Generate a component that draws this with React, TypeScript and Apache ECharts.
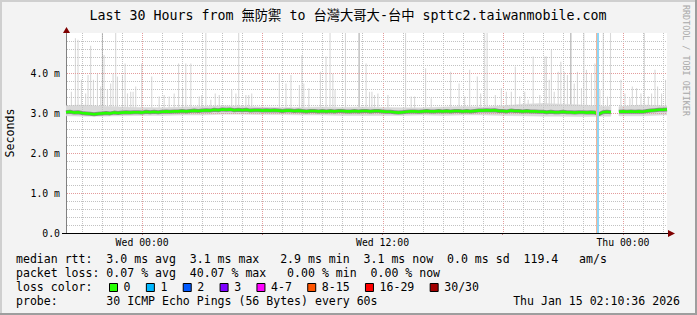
import React, { useEffect, useRef } from 'react';
import * as echarts from 'echarts';

// ---------- data ----------
const TITLE = 'Last 30 Hours from 無防禦 to 台灣大哥大-台中 spttc2.taiwanmobile.com';
// x axis is in hours relative to Wed 00:00
const X_MIN = -3.8;
const X_MAX = 26.2;
const xLabelHours = [0, 12, 24];
const xLabelTexts = ['Wed 00:00', 'Wed 12:00', 'Thu 00:00'];
const xMajorHours = [0, 6, 12, 18, 24];
const xMinorHours = [-3, -2, -1, 1, 2, 3, 4, 5, 7, 8, 9, 10, 11, 13, 14, 15, 16, 17, 19, 20, 21, 22, 23, 25, 26];
// y axis in milliseconds
const Y_MIN = 0;
const Y_MAX = 5;
const Y_STEP = 1;
const Y_MINOR_STEP = 0.2;

// median rtt (ms), one sample every 12 minutes starting at MEDIAN_START
const MEDIAN_START = -3.8;
const MEDIAN_STEP = 0.2;
const medianRtt: (number | null)[] = [
  3.02, 3.03, 3.01, 3.02, 3.00, 2.99, 2.98, 2.97, 2.98, 2.99,
  3.00, 2.99, 3.01, 3.00, 3.01, 3.02, 3.01, 3.02, 3.02, 3.01,
  3.03, 3.02, 3.03, 3.02, 3.03, 3.04, 3.03, 3.04, 3.04, 3.05,
  3.04, 3.05, 3.06, 3.05, 3.06, 3.07, 3.06, 3.08, 3.07, 3.09,
  3.08, 3.09, 3.07, 3.08, 3.07, 3.08, 3.06, 3.07, 3.07, 3.06,
  3.07, 3.06, 3.07, 3.06, 3.05, 3.06, 3.06, 3.05, 3.06, 3.05,
  3.04, 3.05, 3.05, 3.04, 3.05, 3.04, 3.05, 3.04, 3.05, 3.05,
  3.04, 3.04, 3.05, 3.04, 3.05, 3.05, 3.04, 3.05, 3.05, 3.04,
  3.03, 3.03, 3.02, 3.01, 3.02, 3.03, 3.04, 3.04, 3.03, 3.04,
  3.05, 3.04, 3.04, 3.05, 3.04, 3.05, 3.04, 3.05, 3.05, 3.04,
  3.05, 3.04, 3.05, 3.06, 3.06, 3.07, 3.06, 3.07, 3.05, 3.05,
  3.04, 3.06, 3.05, 3.05, 3.04, 3.05, 3.04, 3.04, 3.03, 3.03,
  3.02, 3.03, 3.02, 3.02, 3.03, 3.02, 3.02, 3.01, 3.02, 3.02,
  3.01, 3.02, 3.01, 2.97, 3.02, 3.03, 3.02, null, 3.03, 3.04,
  3.03, 3.04, 3.03, 3.04, 3.03, 3.05, 3.06, 3.07, 3.08, 3.08,
  3.09,
];

// dense smoke band: [hour, low, high]  (null = no data)
const smokeBand: [number, number | null, number | null][] = [
  [-3.8, 2.93, 3.18], [-3, 2.92, 3.2], [-2, 2.92, 3.17], [-1, 2.93, 3.15], [0, 2.94, 3.14],
  [1, 2.94, 3.13], [2, 2.95, 3.15], [3, 2.95, 3.16], [4, 2.97, 3.18], [5, 2.97, 3.17],
  [6, 2.96, 3.15], [7, 2.96, 3.14], [8, 2.95, 3.14], [9, 2.95, 3.15], [10, 2.94, 3.14],
  [11, 2.94, 3.15], [12, 2.94, 3.14], [13, 2.94, 3.13], [14, 2.95, 3.13], [15, 2.94, 3.15],
  [16, 2.95, 3.16], [17, 2.95, 3.15], [18, 2.94, 3.18], [19, 2.93, 3.22], [20, 2.92, 3.24],
  [21, 2.92, 3.22], [22, 2.91, 3.2], [23, 2.92, 3.17], [23.4, 2.92, 3.16], [23.6, null, null],
  [23.8, 2.93, 3.16], [24, 2.93, 3.17], [25, 2.93, 3.2], [26, 2.95, 3.18], [26.2, 2.95, 3.18],
];

// max-ping smoke spikes: [hour, ms]
const SPIKE_BASE = 3.0;
const spikes: [number, number][] = [
  [-3.53, 3.53], [-3.33, 4.87], [-3.2, 4.83], [-3.03, 3.83], [-2.82, 3.49], [-2.7, 3.95],
  [-2.57, 4.68], [-2.43, 3.83], [-2.23, 3.99], [-2.07, 3.66], [-1.9, 4.45], [-1.73, 3.58],
  [-1.57, 3.74], [-1.45, 3.99], [-1.32, 5.0], [-1.23, 3.91], [-0.98, 3.95], [-0.85, 4.24],
  [-0.73, 3.49], [-0.57, 3.53], [-0.45, 3.53], [-0.32, 3.66], [-0.02, 4.24], [0.48, 3.91],
  [0.85, 3.41], [1.1, 3.45], [1.35, 3.41], [1.6, 3.49], [1.82, 4.24], [2.02, 3.62],
  [2.18, 4.24], [2.43, 4.24], [2.85, 3.41], [2.98, 3.45], [3.18, 5.0], [3.43, 3.33],
  [3.65, 3.49], [3.85, 3.45], [4.47, 3.58], [4.68, 3.49], [4.82, 5.0], [5.18, 3.45],
  [5.32, 3.45], [5.47, 3.49], [6.85, 3.99], [7.18, 3.74], [7.43, 3.95], [7.85, 3.7],
  [7.98, 4.45], [8.07, 3.74], [8.32, 3.62], [8.9, 4.03], [9.18, 4.41], [9.38, 5.0],
  [9.52, 3.99], [9.63, 3.58], [10.15, 5.0], [11.18, 4.24], [11.35, 3.53], [11.47, 3.53],
  [11.6, 3.45], [11.77, 3.49], [12.27, 3.45], [13.15, 5.0], [13.43, 3.41], [13.6, 3.41],
  [14.15, 4.12], [14.43, 3.37], [15.4, 4.03], [15.82, 3.74], [16.1, 3.41], [16.35, 4.08],
  [16.73, 3.91], [16.9, 3.49], [17.1, 5.0], [17.22, 5.0], [17.63, 3.45], [17.93, 3.62],
  [18.18, 3.53], [18.43, 3.53], [18.63, 4.16], [18.85, 3.41], [19.1, 3.53], [19.27, 3.33],
  [19.52, 4.41], [19.85, 3.45], [20.1, 4.41], [20.18, 4.41], [20.32, 3.83], [20.43, 4.58],
  [20.57, 3.53], [20.77, 4.03], [20.9, 4.28], [21.07, 4.03], [21.23, 3.95], [21.57, 3.74],
  [21.73, 4.03], [21.93, 3.62], [22.05, 5.0], [22.18, 4.08], [22.43, 3.99], [22.6, 4.24],
  [22.85, 3.58], [23.02, 5.0], [23.23, 3.41], [23.38, 5.0], [23.9, 3.83], [24.1, 3.49],
  [24.35, 3.37], [24.47, 3.66], [24.68, 3.62], [24.9, 3.49], [25.07, 5.0], [25.27, 3.41],
  [25.43, 3.49], [25.6, 4.08], [25.73, 3.66], [25.93, 3.49], [26.13, 3.83],
];
const darkSpikes: [number, number][] = [[-1.98, 5.0], [10.83, 5.0], [21.4, 5.0]];

// packet loss event (hour) shown as a vertical bar
const lossEventHours = [22.72];

// legend texts
const statsRows = [
  'median rtt:  3.0 ms avg  3.1 ms max   2.9 ms min  3.1 ms now  0.0 ms sd  119.4   am/s',
  'packet loss: 0.07 % avg  40.07 % max   0.00 % min  0.00 % now',
];
const lossLabels = ['0', '1', '2', '3', '4-7', '8-15', '16-29', '30/30'];
const lossColors = ['#26ff00', '#00b8ff', '#0059ff', '#7e00ff', '#ff00ff', '#ff5500', '#ff0000', '#a10000'];
const PROBE_TEXT = 'probe:       30 ICMP Echo Pings (56 Bytes) every 60s';
const STAMP_TEXT = 'Thu Jan 15 02:10:36 2026';
const WATERMARK = 'RRDTOOL / TOBI OETIKER';

// ---------- component ----------
const MONO = '"DejaVu Sans Mono", "Noto Sans CJK TC", monospace';
const MINOR = '#c2c2c2';
const MAJOR = '#e49c9c';

export default function App() {
  const ref = useRef<HTMLDivElement>(null);

  useEffect(() => {
    if (!ref.current) return;
    const chart = echarts.init(ref.current, null, { renderer: 'svg' });

    const medianData = medianRtt.map((v, i) => [MEDIAN_START + i * MEDIAN_STEP, v]);
    // band segments between consecutive samples: [h0, lo0, hi0, h1, lo1, hi1]
    const bandSegments: number[][] = [];
    for (let i = 0; i < smokeBand.length - 1; i++) {
      const a = smokeBand[i];
      const b = smokeBand[i + 1];
      if (a[1] == null || a[2] == null || b[1] == null || b[2] == null) continue;
      bandSegments.push([a[0], a[1], a[2], b[0], b[1], b[2]]);
    }
    // grid lines: [x0, y0, x1, y1, major]
    const gridLines: number[][] = [];
    xMinorHours.forEach((h) => gridLines.push([h, Y_MIN, h, Y_MAX, 0]));
    xMajorHours.forEach((h) => gridLines.push([h, Y_MIN, h, Y_MAX, 1]));
    const nLevels = Math.round((Y_MAX - Y_MIN) / Y_MINOR_STEP);
    for (let k = 1; k < nLevels; k++) {
      const v = +(Y_MIN + k * Y_MINOR_STEP).toFixed(2);
      gridLines.push([X_MIN, v, X_MAX, v, k % 5 === 0 ? 1 : 0]);
    }

    const spikeSeries = (data: [number, number][], color: string, z: number) => ({
      type: 'custom',
      z,
      silent: true,
      clip: true,
      data,
      encode: { x: 0, y: 1 },
      renderItem: (_p: any, api: any) => {
        const h = api.value(0);
        const v = api.value(1);
        const p0 = api.coord([h, SPIKE_BASE]);
        const p1 = api.coord([h, v]);
        return {
          type: 'line',
          shape: { x1: p0[0], y1: p0[1], x2: p1[0], y2: p1[1] },
          style: { stroke: color, lineWidth: 1.1 },
        };
      },
    });

    const LEG = 11.56;
    const graphics: any[] = [];
    // frame
    graphics.push({ type: 'rect', shape: { x: 0, y: 0, width: 697, height: 2 }, style: { fill: '#cfcfcf' } });
    graphics.push({ type: 'rect', shape: { x: 0, y: 0, width: 2, height: 315 }, style: { fill: '#cfcfcf' } });
    graphics.push({ type: 'rect', shape: { x: 695, y: 0, width: 2, height: 315 }, style: { fill: '#9e9e9e' } });
    graphics.push({ type: 'rect', shape: { x: 0, y: 313, width: 697, height: 2 }, style: { fill: '#9e9e9e' } });
    // title
    graphics.push({
      type: 'text', x: 348, y: 15,
      style: { text: TITLE, fontFamily: MONO, fontSize: 13.3, fill: '#000', textAlign: 'center', textVerticalAlign: 'middle' },
    });
    // watermark
    graphics.push({
      type: 'text', x: 686, y: 5, rotation: -Math.PI / 2,
      style: { text: WATERMARK, fontFamily: MONO, fontSize: 8.4, fill: '#a8a8a8', textAlign: 'left', textVerticalAlign: 'middle' },
    });
    // y axis name
    graphics.push({
      type: 'text', x: 10, y: 133, rotation: Math.PI / 2,
      style: { text: 'Seconds', fontFamily: MONO, fontSize: 11.6, fill: '#000', textAlign: 'center', textVerticalAlign: 'middle' },
    });
    // axis extensions and arrows
    graphics.push({ type: 'line', shape: { x1: 62, y1: 233.5, x2: 669, y2: 233.5 }, style: { stroke: '#000', lineWidth: 1 }, z: 10 });
    graphics.push({ type: 'polygon', shape: { points: [[668, 230], [668, 237], [675, 233.5]] }, style: { fill: '#7f0000' }, z: 10 });
    graphics.push({ type: 'polygon', shape: { points: [[63, 33], [70, 33], [66.5, 27]] }, style: { fill: '#7f0000' }, z: 10 });
    // stats rows
    const rowY = [259.3, 273.3, 287.3, 301.3];
    statsRows.forEach((t, i) => {
      graphics.push({
        type: 'text', x: 16, y: rowY[i],
        style: { text: t, fontFamily: MONO, fontSize: LEG, fill: '#000', textAlign: 'left', textVerticalAlign: 'middle' },
      });
    });
    graphics.push({
      type: 'text', x: 16, y: rowY[2],
      style: { text: 'loss color:', fontFamily: MONO, fontSize: LEG, fill: '#000', textAlign: 'left', textVerticalAlign: 'middle' },
    });
    const CH = 6.96;
    let bx = 109;
    lossLabels.forEach((lab, i) => {
      graphics.push({
        type: 'rect', shape: { x: bx + 0.5, y: 283.5, width: 8, height: 8 },
        style: { fill: lossColors[i], stroke: '#000', lineWidth: 1 },
      });
      const tx = bx + 14.6;
      graphics.push({
        type: 'text', x: tx, y: rowY[2],
        style: { text: lab, fontFamily: MONO, fontSize: LEG, fill: '#000', textAlign: 'left', textVerticalAlign: 'middle' },
      });
      bx = tx + lab.length * CH + 15.3;
    });
    graphics.push({
      type: 'text', x: 16, y: rowY[3],
      style: { text: PROBE_TEXT, fontFamily: MONO, fontSize: LEG, fill: '#000', textAlign: 'left', textVerticalAlign: 'middle' },
    });
    graphics.push({
      type: 'text', x: 680, y: rowY[3],
      style: { text: STAMP_TEXT, fontFamily: MONO, fontSize: LEG, fill: '#000', textAlign: 'right', textVerticalAlign: 'middle' },
    });

    const option: any = {
      animation: false,
      backgroundColor: '#f3f3f3',
      grid: {
        left: 66, right: 30, top: 33, bottom: 82,
        show: true, backgroundColor: '#ffffff', borderWidth: 0,
      },
      xAxis: {
        type: 'value',
        min: X_MIN,
        max: X_MAX,
        axisLine: { show: false, onZero: false },
        splitLine: { show: false },
        axisTick: {
          show: true, customValues: xMajorHours, length: 2, inside: false,
          lineStyle: { color: '#d08080' },
        },
        axisLabel: {
          customValues: xLabelHours,
          formatter: (v: number) => xLabelTexts[xLabelHours.indexOf(v)] ?? '',
          fontFamily: MONO, fontSize: 9.8, color: '#000', margin: 5,
        },
      },
      yAxis: {
        type: 'value',
        min: Y_MIN,
        max: Y_MAX,
        interval: Y_STEP,
        axisLine: { show: true, onZero: false, lineStyle: { color: '#808080' } },
        axisTick: { show: false },
        axisLabel: {
          formatter: (v: number) => (v >= Y_MAX ? '' : v === 0 ? '0.0' : v.toFixed(1) + ' m'),
          fontFamily: MONO, fontSize: 9.8, color: '#000', margin: 6,
        },
        splitLine: { show: false },
      },
      graphic: { elements: graphics },
      series: [
        spikeSeries(spikes, '#d8d8d8', 2),
        spikeSeries(darkSpikes, '#ababab', 2),
        {
          type: 'custom', name: 'smoke', z: 3, silent: true, clip: true,
          data: bandSegments,
          encode: { x: [0, 3], y: [1, 2, 4, 5] },
          renderItem: (_p: any, api: any) => {
            const a0 = api.coord([api.value(0), api.value(1)]);
            const a1 = api.coord([api.value(0), api.value(2)]);
            const b0 = api.coord([api.value(3), api.value(4)]);
            const b1 = api.coord([api.value(3), api.value(5)]);
            return {
              type: 'polygon',
              shape: { points: [a0, a1, b1, b0] },
              style: { fill: '#d9d9d9', stroke: '#d9d9d9', lineWidth: 0.5 },
            };
          },
        },
        {
          type: 'custom', name: 'grid', z: 3.5, silent: true, clip: false,
          data: gridLines,
          encode: { x: [0, 2], y: [1, 3] },
          renderItem: (_p: any, api: any) => {
            const a = api.coord([api.value(0), api.value(1)]);
            const b = api.coord([api.value(2), api.value(3)]);
            const major = api.value(4) === 1;
            const vertical = Math.abs(a[0] - b[0]) < 0.5;
            const x1 = vertical ? Math.round(a[0]) + 0.5 : a[0] + 1;
            const x2 = vertical ? Math.round(a[0]) + 0.5 : b[0];
            const y1 = vertical ? b[1] : Math.round(a[1]) + 0.5;
            const y2 = vertical ? a[1] : Math.round(a[1]) + 0.5;
            return {
              type: 'line',
              shape: { x1, y1, x2, y2 },
              style: { stroke: major ? MAJOR : MINOR, lineWidth: 1, lineDash: [1, 1] },
            };
          },
        },
        {
          type: 'line', name: 'medianShadow', data: medianData, z: 4, silent: true,
          symbol: 'none', lineStyle: { color: '#8a8a8a', width: 4 },
        },
        {
          type: 'line', name: 'median', data: medianData, z: 5, silent: true,
          symbol: 'none', lineStyle: { color: '#26ff00', width: 2.6 },
        },
        {
          type: 'custom', name: 'loss', z: 6, silent: true, clip: true,
          data: lossEventHours.map((h) => [h, Y_MIN]),
          encode: { x: 0, y: 1 },
          renderItem: (_p: any, api: any) => {
            const h = api.value(0);
            const top = api.coord([h, Y_MAX]);
            const bot = api.coord([h, Y_MIN]);
            const x = Math.round(top[0]);
            return {
              type: 'group',
              children: [
                { type: 'rect', shape: { x: x - 1, y: top[1], width: 1, height: bot[1] - top[1] }, style: { fill: '#f2b49a' } },
                { type: 'rect', shape: { x: x, y: top[1], width: 2, height: bot[1] - top[1] }, style: { fill: '#8ed6f6' } },
              ],
            };
          },
        },
      ],
    };

    chart.setOption(option);
    return () => chart.dispose();
  }, []);

  return (
    <div
      ref={ref}
      style={{ position: 'fixed', left: 0, top: 0, width: 697, height: 315, background: '#f3f3f3' }}
    />
  );
}
